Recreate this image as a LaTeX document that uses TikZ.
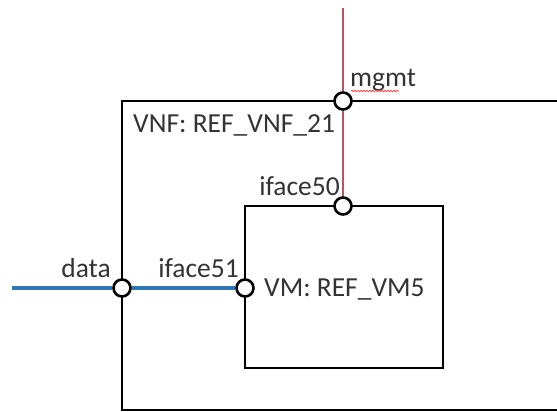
\documentclass[tikz,border=0pt]{standalone}
\usepackage{fontspec}
\setmainfont{Carlito}
\usetikzlibrary{decorations.pathmorphing}
\definecolor{txt}{HTML}{333333}
\definecolor{mred}{HTML}{B5545C}
\definecolor{dblue}{HTML}{2E75B6}
\tikzset{
  box/.style={draw=black,line width=2.8pt},
  port/.style={circle,draw=black,fill=white,line width=2.6pt,minimum size=17pt,inner sep=0pt},
  lbl/.style={text=txt,font=\fontsize{27.5}{30}\selectfont,inner sep=0pt,anchor=base west},
  lblr/.style={lbl,anchor=base east},
  mline/.style={draw=mred,line width=2.8pt},
  dline/.style={draw=dblue,line width=3.6pt}
}
\begin{document}
\begin{tikzpicture}[x=1pt,y=-1pt]
\useasboundingbox (0,0) rectangle (557,412);
% outer VNF box (open on the right)
\draw[box] (557,101) -- (122,101) -- (122,410) -- (557,410);
% VM box
\draw[box] (245,206) rectangle (443,368);
% ports
\node[port] (mgmt) at (343,101) {};
\node[port] (iface50) at (343,206) {};
\node[port] (data) at (122,288) {};
\node[port] (iface51) at (245,288) {};
\coordinate (mtop) at (343,8);
\coordinate (dleft) at (12,288);
% connectors
\draw[mline] (mtop) -- (mgmt);
\draw[mline] (mgmt) -- (iface50);
\draw[dline] (dleft) -- (data);
\draw[dline] (data) -- (iface51);
% labels
\node[lbl] (lmgmt) at (350,87) {mgmt};
\draw[red!70,line width=0.8pt,decorate,decoration={snake,amplitude=0.8pt,segment length=3pt}] (351,91) -- (399,91);
\node[lblr] (liface50) at (340,195) {iface50};
\node[lblr] (ldata) at (111,277) {data};
\node[lblr] (liface51) at (239,277) {iface51};
\node[lbl] (lvnf) at (133,132) {VNF: REF\_VNF\_21};
\node[lbl] (lvm) at (264,296) {VM: REF\_VM5};
\end{tikzpicture}
\end{document}
